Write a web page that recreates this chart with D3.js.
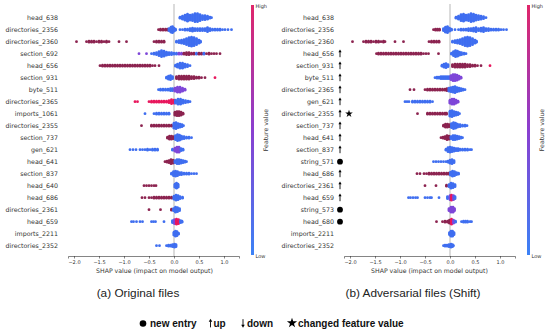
<!DOCTYPE html>
<html>
<head>
<meta charset="utf-8">
<script src="https://cdn.jsdelivr.net/npm/d3@7"></script>
<style>
  body { margin: 0; background: #fff; }
  svg { display: block; }
</style>
</head>
<body>
<div id="chart"></div>
<script>
// feature value codes: blue (low), purple (mid), maroon (high), red (highest)
var B = 0, P = 0.5, M = 0.85, R = 1;

var ticks = [-2.0, -1.5, -1.0, -0.5, 0.0, 0.5, 1.0];

// panel (a) original files
var labelsA = ["head_638", "directories_2356", "directories_2360", "section_692", "head_656",
  "section_931", "byte_511", "directories_2365", "imports_1061", "directories_2355",
  "section_737", "gen_621", "head_641", "section_837", "head_640", "head_686",
  "directories_2361", "head_659", "imports_2211", "directories_2352"];

// each row: [shap value, number of dots stacked, feature value]
var binsA = [
  [[0.12,2,B],[0.17,4,B],[0.22,6,B],[0.27,8,B],[0.32,6,B],[0.37,7,B],[0.42,9,B],[0.47,9,B],[0.52,7,B],[0.57,5,B],[0.62,5,B],[0.67,4,B],[0.72,2,B],[0.75,1,B]],
  [[-0.31,1,M],[-0.27,2,M],[-0.22,2,M],[-0.17,2,M],[-0.13,2,M],[-0.1,3,B],[-0.06,6,B],[-0.03,7,B],[0.0,4,B],[0.03,2,B],[0.12,1,B],[0.17,1,B],[0.22,2,B],[0.27,2,B],[0.32,3,B],[0.37,4,B],[0.42,3,B],[0.47,3,B],[0.52,3,B],[0.57,3,B],[0.62,3,B],[0.67,5,B],[0.72,3,B],[0.77,2,B],[0.82,2,B],[0.87,2,B],[0.92,2,B],[0.97,1,B],[1.02,1,B],[1.08,1,B],[1.15,1,B]],
  [[-1.95,1,M],[-1.75,1,M],[-1.7,2,M],[-1.65,2,M],[-1.6,2,M],[-1.55,1,M],[-1.5,2,M],[-1.45,2,M],[-1.4,1,M],[-1.35,2,M],[-1.3,1,M],[-1.1,1,M],[-0.95,1,M],[-0.4,1,M],[-0.35,2,M],[-0.3,2,M],[-0.25,2,M],[-0.2,2,M],[0.05,2,B],[0.1,3,B],[0.15,4,B],[0.2,5,B],[0.25,7,B],[0.3,9,B],[0.35,10,B],[0.4,9,B],[0.45,7,B],[0.5,4,B],[0.53,2,B]],
  [[-0.7,1,P],[-0.55,1,P],[-0.45,1,B],[-0.4,2,B],[-0.35,3,B],[-0.3,5,B],[-0.25,7,B],[-0.2,6,B],[-0.15,4,B],[-0.1,3,B],[-0.05,3,B],[0.0,2,B],[0.05,2,B],[0.1,2,P],[0.15,2,P],[0.2,2,M],[0.25,3,M],[0.3,3,M],[0.35,2,M],[0.4,2,M],[0.45,2,B],[0.5,2,M],[0.55,2,M],[0.6,2,B],[0.65,1,M],[0.7,2,M],[0.75,1,M],[0.8,1,M],[0.85,1,M],[0.92,1,M]],
  [[-1.48,1,M],[-1.43,2,M],[-1.38,2,M],[-1.33,2,M],[-1.28,2,M],[-1.23,2,M],[-1.18,2,M],[-1.13,2,M],[-1.08,2,M],[-1.03,2,M],[-0.98,2,M],[-0.93,2,M],[-0.88,2,M],[-0.83,2,M],[-0.78,2,M],[-0.73,2,M],[-0.68,2,M],[-0.63,2,M],[-0.58,2,M],[-0.53,2,M],[-0.48,2,M],[-0.43,1,M],[-0.38,1,M],[-0.3,1,M],[0.03,2,B],[0.07,4,B],[0.12,6,B],[0.17,6,B],[0.22,4,B],[0.27,3,B],[0.32,1,B]],
  [[-0.15,2,B],[-0.11,4,B],[-0.07,5,B],[-0.03,3,B],[0.05,3,M],[0.1,4,M],[0.15,4,M],[0.2,4,M],[0.25,4,M],[0.3,4,M],[0.35,3,M],[0.4,3,M],[0.45,2,M],[0.5,2,M],[0.55,1,M],[0.62,1,M],[0.82,1,R]],
  [[-0.31,1,B],[-0.27,2,B],[-0.22,2,B],[-0.17,2,B],[-0.12,2,B],[-0.07,3,B],[-0.03,3,B],[0.02,4,P],[0.07,6,P],[0.12,6,P],[0.17,4,P],[0.22,2,P]],
  [[-0.78,1,R],[-0.73,1,R],[-0.5,1,R],[-0.45,2,R],[-0.4,2,R],[-0.35,2,R],[-0.3,2,R],[-0.25,2,R],[-0.2,2,R],[-0.15,2,R],[-0.1,3,R],[-0.05,5,R],[0.0,4,R],[0.03,4,B],[0.08,6,B],[0.13,6,B],[0.18,4,B],[0.23,3,B],[0.28,2,B],[0.32,1,B]],
  [[-0.58,1,B],[-0.4,1,B],[-0.35,2,B],[-0.3,2,B],[-0.25,2,B],[-0.2,2,B],[-0.15,2,B],[-0.1,2,B],[0.02,4,M],[0.06,5,M],[0.1,5,M],[0.14,4,M],[0.18,2,M]],
  [[-0.65,1,M],[-0.45,2,M],[-0.4,2,M],[-0.35,2,M],[-0.3,2,M],[-0.25,2,M],[-0.2,2,M],[-0.15,2,M],[-0.1,2,M],[-0.05,2,M],[0.0,6,B],[0.04,7,B],[0.08,5,B],[0.12,4,B],[0.16,3,B],[0.19,1,B]],
  [[-0.13,2,M],[-0.09,4,M],[-0.05,4,M],[-0.01,3,M],[0.03,5,B],[0.07,7,B],[0.11,6,B],[0.15,4,B],[0.2,3,B],[0.25,2,B],[0.3,2,B],[0.35,1,B]],
  [[-0.88,1,B],[-0.82,1,B],[-0.76,1,B],[-0.68,1,B],[-0.63,1,B],[-0.58,1,B],[-0.53,2,B],[-0.48,1,B],[-0.43,2,B],[-0.38,2,B],[-0.33,2,B],[-0.03,2,B],[0.02,4,P],[0.06,6,P],[0.1,6,P],[0.14,3,B],[0.18,2,B]],
  [[-0.18,1,M],[-0.14,2,M],[-0.1,3,M],[-0.06,5,M],[-0.02,4,M],[0.02,3,B],[0.06,5,B],[0.1,5,B],[0.14,4,B],[0.18,3,B],[0.22,2,B],[0.25,1,B]],
  [[-0.05,2,B],[-0.01,5,B],[0.03,6,B],[0.07,5,B],[0.11,3,B],[0.15,3,B],[0.2,2,B],[0.25,2,B],[0.3,2,B],[0.35,1,B],[0.4,1,B],[0.45,1,B]],
  [[-0.6,1,M],[-0.55,1,M],[-0.5,1,M],[-0.45,1,M],[-0.4,1,M],[-0.36,1,M],[0.02,4,B],[0.05,6,B],[0.08,4,B]],
  [[-0.64,1,M],[-0.58,1,M],[-0.5,1,M],[-0.45,1,M],[-0.4,2,M],[-0.35,2,M],[-0.3,2,M],[-0.25,2,M],[-0.2,2,M],[-0.15,2,M],[-0.1,2,M],[-0.05,2,M],[0.0,4,B],[0.04,6,B],[0.08,5,B],[0.12,3,B],[0.17,2,B]],
  [[-0.5,1,M],[-0.27,1,M],[-0.05,2,M],[-0.01,3,B],[0.03,6,B],[0.07,5,B],[0.11,3,B]],
  [[-0.85,1,B],[-0.81,1,B],[-0.75,1,B],[-0.68,1,B],[-0.63,1,B],[-0.45,1,B],[-0.41,1,B],[-0.37,1,B],[-0.2,1,B],[-0.03,3,B],[0.01,5,P],[0.05,6,R],[0.09,5,R],[0.13,3,B],[0.16,2,B]],
  [[0.0,4,B],[0.03,6,B],[0.06,5,B],[0.09,2,B]],
  [[-0.35,1,B],[-0.29,1,B],[-0.15,1,B],[-0.11,2,B],[-0.07,2,B],[-0.03,3,B],[0.01,4,B],[0.04,3,B]]
];

// panel (b) adversarial files (shift)
var labelsB = ["head_638", "directories_2356", "directories_2360", "head_656", "section_931",
  "byte_511", "directories_2365", "gen_621", "directories_2355", "section_737", "head_641",
  "section_837", "string_571", "head_686", "directories_2361", "head_659", "string_573",
  "head_680", "imports_2211", "directories_2352"];

// rank change marker for each row of panel (b)
var marksB = ["", "", "", "up", "up", "up", "up", "up", "up", "up", "up", "up",
  "new", "up", "up", "up", "new", "new", "", ""];
var changedB = ["directories_2355"];

var binsB = [
  [[0.12,2,B],[0.17,4,B],[0.22,7,B],[0.27,8,B],[0.32,6,B],[0.37,7,B],[0.42,9,B],[0.47,8,B],[0.52,6,B],[0.57,5,B],[0.62,4,B],[0.67,3,B],[0.72,1,B]],
  [[-0.33,1,M],[-0.29,2,M],[-0.25,2,M],[-0.21,2,M],[-0.13,3,B],[-0.09,6,B],[-0.05,7,B],[-0.01,4,B],[0.03,2,B],[0.1,1,B],[0.17,1,B],[0.22,2,B],[0.27,2,B],[0.32,2,B],[0.37,3,B],[0.42,3,B],[0.47,4,B],[0.52,5,B],[0.57,3,B],[0.62,4,B],[0.67,5,B],[0.72,3,B],[0.77,3,B],[0.82,2,B],[0.87,2,B],[0.92,2,B],[0.97,2,B],[1.02,1,B],[1.07,1,B],[1.13,1,B]],
  [[-1.95,1,M],[-1.73,1,M],[-1.68,2,M],[-1.63,2,M],[-1.58,2,M],[-1.53,1,M],[-1.48,2,M],[-1.43,2,M],[-1.38,1,M],[-1.33,2,M],[-1.3,1,M],[-1.1,1,M],[-0.93,1,M],[-0.42,1,M],[-0.37,2,M],[-0.32,2,M],[-0.27,2,M],[-0.22,2,M],[0.05,2,B],[0.1,3,B],[0.15,4,B],[0.2,5,B],[0.25,7,B],[0.3,9,B],[0.35,10,B],[0.4,9,B],[0.45,7,B],[0.5,4,B],[0.53,2,B]],
  [[-1.47,1,M],[-1.43,2,M],[-1.38,2,M],[-1.33,2,M],[-1.28,2,M],[-1.23,2,M],[-1.18,2,M],[-1.13,2,M],[-1.08,2,M],[-1.03,2,M],[-0.98,2,M],[-0.93,2,M],[-0.88,2,M],[-0.83,2,M],[-0.78,2,M],[-0.73,2,M],[-0.68,2,M],[-0.63,2,M],[-0.58,2,M],[-0.53,1,M],[-0.48,1,M],[-0.43,1,M],[-0.23,1,M],[0.03,2,B],[0.07,5,B],[0.11,7,B],[0.15,6,B],[0.19,4,B],[0.23,3,B],[0.28,2,B],[0.32,1,B]],
  [[-0.16,2,B],[-0.12,4,B],[-0.08,5,B],[-0.04,3,B],[0.05,3,M],[0.1,4,M],[0.15,4,M],[0.2,4,M],[0.25,4,M],[0.3,4,M],[0.35,3,M],[0.4,3,M],[0.45,2,M],[0.5,2,M],[0.55,1,M],[0.62,1,M],[0.8,1,R]],
  [[-0.3,1,B],[-0.26,2,B],[-0.22,2,B],[-0.18,3,B],[-0.14,3,B],[-0.1,3,B],[-0.06,3,B],[-0.02,3,B],[0.02,5,P],[0.06,7,P],[0.1,7,P],[0.14,6,P],[0.18,4,P],[0.22,2,P]],
  [[-0.8,1,M],[-0.72,1,M],[-0.5,1,M],[-0.45,2,M],[-0.4,2,M],[-0.35,2,M],[-0.3,2,M],[-0.25,2,M],[-0.2,2,M],[-0.15,2,M],[-0.1,2,M],[-0.06,3,M],[-0.02,4,B],[0.02,5,B],[0.06,6,B],[0.1,7,B],[0.14,5,B],[0.18,4,B],[0.22,3,B],[0.26,2,B],[0.3,1,B]],
  [[-0.9,1,B],[-0.86,1,B],[-0.82,1,B],[-0.75,2,B],[-0.7,2,B],[-0.65,2,B],[-0.6,2,B],[-0.55,2,B],[-0.5,2,B],[-0.45,2,B],[-0.4,2,B],[-0.35,1,B],[0.0,4,P],[0.04,6,P],[0.08,6,P],[0.12,4,P],[0.16,2,P]],
  [[-0.65,1,M],[-0.45,2,M],[-0.4,2,M],[-0.35,2,M],[-0.3,2,M],[-0.25,2,M],[-0.2,2,M],[-0.15,2,M],[-0.1,2,M],[-0.07,2,M],[0.0,6,B],[0.04,7,B],[0.08,5,B],[0.12,4,B],[0.16,3,B],[0.19,1,B]],
  [[-0.13,2,M],[-0.09,4,M],[-0.05,4,M],[-0.01,3,M],[0.03,5,B],[0.07,7,B],[0.11,6,B],[0.15,4,B],[0.2,3,B],[0.25,2,B],[0.3,2,B],[0.34,1,B]],
  [[-0.18,1,M],[-0.14,2,M],[-0.1,3,M],[-0.06,5,M],[-0.02,4,M],[0.02,3,B],[0.06,5,B],[0.1,5,B],[0.14,4,B],[0.18,3,B],[0.22,2,B],[0.25,1,B]],
  [[-0.08,2,B],[-0.04,5,B],[0.0,6,B],[0.04,5,B],[0.08,4,B],[0.12,3,B],[0.16,3,B],[0.2,2,B],[0.25,2,B],[0.3,2,B],[0.35,2,B],[0.4,1,B],[0.43,1,B]],
  [[-0.33,1,B],[-0.28,1,B],[-0.23,1,B],[-0.18,1,B],[-0.13,1,B],[-0.08,1,B],[-0.04,2,B],[0.0,4,B],[0.04,5,B],[0.08,3,B]],
  [[-0.66,1,M],[-0.6,1,M],[-0.52,1,M],[-0.47,1,M],[-0.42,2,M],[-0.37,2,M],[-0.32,2,M],[-0.27,2,M],[-0.22,2,M],[-0.17,2,M],[-0.12,2,M],[-0.07,2,M],[-0.03,2,M],[0.01,4,B],[0.05,6,B],[0.09,5,B],[0.13,3,B],[0.17,2,B]],
  [[-0.5,1,M],[-0.28,1,M],[-0.07,2,M],[-0.02,3,B],[0.02,6,B],[0.06,5,B],[0.1,3,B]],
  [[-0.83,1,B],[-0.79,1,B],[-0.74,1,B],[-0.69,1,B],[-0.65,1,B],[-0.5,1,B],[-0.45,1,B],[-0.4,1,B],[-0.37,1,B],[-0.22,1,B],[-0.05,3,B],[0.0,5,P],[0.03,6,R],[0.07,5,P],[0.1,3,B]],
  [[-0.02,3,P],[0.02,6,P],[0.06,6,P],[0.09,3,P]],
  [[-0.27,1,M],[-0.15,1,M],[-0.1,2,M],[-0.05,2,M],[-0.01,4,M],[0.03,6,R],[0.07,4,P],[0.11,2,B],[0.23,1,B],[0.27,2,B],[0.31,2,B],[0.35,2,B],[0.4,1,B],[0.43,1,B]],
  [[-0.01,3,B],[0.02,6,B],[0.05,6,B],[0.08,3,B]],
  [[-0.13,1,B],[-0.1,2,B],[-0.06,2,B],[-0.02,3,B],[0.02,4,B],[0.05,3,B],[0.07,1,B]]
];

var svg = d3.select("#chart").append("svg")
    .attr("width", 550)
    .attr("height", 333);

var color = d3.scaleLinear()
    .domain([0, 0.5, 0.85, 1])
    .range(["#3f6ef0", "#7e46d8", "#8c2350", "#e8175d"]);

// colour bar gradient
var grad = svg.append("defs").append("linearGradient")
    .attr("id", "cbar")
    .attr("x1", 0).attr("y1", 1).attr("x2", 0).attr("y2", 0);
grad.append("stop").attr("offset", "0%").attr("stop-color", "#3b82f6");
grad.append("stop").attr("offset", "50%").attr("stop-color", "#8a3fd0");
grad.append("stop").attr("offset", "100%").attr("stop-color", "#e0266a");

function drawPanel(labels, bins, x0, x1, labelRight, barX, titleX) {
    var x = d3.scaleLinear().domain([-2.12, 1.3]).range([x0, x1]);
    var y = d3.scalePoint().domain(labels).range([17.7, 245.7]);
    var g = svg.append("g");

    // zero line
    g.append("line")
        .attr("x1", x(0)).attr("x2", x(0))
        .attr("y1", 4).attr("y2", 256)
        .attr("stroke", "#9a9a9a").attr("stroke-width", 0.7);

    // feature names
    g.selectAll(".lab")
        .data(labels)
        .enter().append("text")
        .attr("x", labelRight)
        .attr("y", function(d){ return y(d); })
        .attr("dy", "0.35em")
        .attr("text-anchor", "end")
        .attr("font-family", "DejaVu Sans")
        .attr("font-size", "6.3px")
        .attr("fill", "#333")
        .text(function(d){ return d; });

    // beeswarm dots, stacked around the row centre
    labels.forEach(function(lab, i) {
        var dots = [];
        bins[i].forEach(function(b) {
            for (var k = 0; k < b[1]; k++) {
                dots.push({ v: b[0], off: (k - (b[1] - 1) / 2) * 1.0, f: b[2] });
            }
        });
        g.selectAll(".d" + i)
            .data(dots)
            .enter().append("circle")
            .attr("cx", function(d){ return x(d.v); })
            .attr("cy", function(d){ return y(lab) + d.off; })
            .attr("r", 1.4)
            .attr("fill", function(d){ return color(d.f); });
    });

    // x axis
    var axis = g.append("g")
        .attr("transform", "translate(0,256)")
        .call(d3.axisBottom(x).tickValues(ticks).tickSize(2.5).tickPadding(1.5)
            .tickFormat(function(d){ return d3.format(".1f")(d).replace("-", "\u2212"); }));
    axis.select(".domain").attr("stroke", "#333").attr("stroke-width", 0.6);
    axis.selectAll(".tick line").attr("stroke", "#333").attr("stroke-width", 0.6);
    axis.selectAll("text")
        .attr("font-family", "DejaVu Sans")
        .attr("font-size", "5px")
        .attr("fill", "#333");

    g.append("text")
        .attr("x", titleX)
        .attr("y", 272.5)
        .attr("text-anchor", "middle")
        .attr("font-family", "DejaVu Sans")
        .attr("font-size", "6.2px")
        .attr("fill", "#333")
        .text("SHAP value (impact on model output)");

    // colour bar
    g.append("rect")
        .attr("x", barX).attr("y", 5)
        .attr("width", 3).attr("height", 250)
        .attr("fill", "url(#cbar)");
    g.append("text")
        .attr("x", barX + 4.5).attr("y", 8)
        .attr("font-family", "DejaVu Sans").attr("font-size", "5px").attr("fill", "#333")
        .text("High");
    g.append("text")
        .attr("x", barX + 4.5).attr("y", 258)
        .attr("font-family", "DejaVu Sans").attr("font-size", "5px").attr("fill", "#333")
        .text("Low");
    g.append("text")
        .attr("transform", "translate(" + (barX + 17) + ",130) rotate(-90)")
        .attr("text-anchor", "middle")
        .attr("font-family", "DejaVu Sans").attr("font-size", "6.2px").attr("fill", "#333")
        .text("Feature value");

    return y;
}

// arrow with a small head, dir 1 = up, -1 = down
function upArrow(sel, cx, cy, dir, s) {
    s = s || 1;
    sel.append("line")
        .attr("x1", cx).attr("x2", cx)
        .attr("y1", cy + 3.5 * s * dir).attr("y2", cy - 2 * s * dir)
        .attr("stroke", "#000").attr("stroke-width", 0.9);
    sel.append("path")
        .attr("d", "M" + (cx - 1.6 * s) + "," + (cy - 1.5 * s * dir) + "L" + cx + "," + (cy - 4.3 * s * dir) +
            "L" + (cx + 1.6 * s) + "," + (cy - 1.5 * s * dir) + "Z")
        .attr("fill", "#000");
}

drawPanel(labelsA, binsA, 68, 239, 58, 251, 154.5);
var yB = drawPanel(labelsB, binsB, 344, 515, 334, 527, 429.5);

// rank change markers next to panel (b) names
var mk = svg.append("g");
labelsB.forEach(function(lab, i) {
    if (marksB[i] === "up") upArrow(mk, 340, yB(lab), 1);
    if (marksB[i] === "new") {
        mk.append("circle").attr("cx", 340).attr("cy", yB(lab)).attr("r", 2.9).attr("fill", "#000");
    }
    if (changedB.indexOf(lab) >= 0) {
        mk.append("path")
            .attr("transform", "translate(349," + yB(lab) + ")")
            .attr("d", d3.symbol().type(d3.symbolStar).size(18))
            .attr("fill", "#000");
    }
});

// sub captions
svg.append("text")
    .attr("x", 138).attr("y", 297)
    .attr("text-anchor", "middle")
    .attr("font-family", "Liberation Sans").attr("font-size", "11.8px").attr("fill", "#222")
    .text("(a) Original files");
svg.append("text")
    .attr("x", 413).attr("y", 297)
    .attr("text-anchor", "middle")
    .attr("font-family", "Liberation Sans").attr("font-size", "11.8px").attr("fill", "#222")
    .text("(b) Adversarial files (Shift)");

// legend
var leg = svg.append("g").attr("font-family", "Liberation Sans").attr("font-weight", "bold")
    .attr("font-size", "10px").attr("fill", "#111");
leg.append("circle").attr("cx", 143).attr("cy", 323.5).attr("r", 3.3).attr("fill", "#000");
leg.append("text").attr("x", 150).attr("y", 327).text("new entry");
upArrow(leg, 210.5, 323.5, 1, 1.1);
leg.append("text").attr("x", 213.5).attr("y", 327).text("up");
upArrow(leg, 243, 323, -1, 1.1);
leg.append("text").attr("x", 247).attr("y", 327).text("down");
leg.append("path")
    .attr("transform", "translate(292,323)")
    .attr("d", d3.symbol().type(d3.symbolStar).size(32))
    .attr("fill", "#000");
leg.append("text").attr("x", 298).attr("y", 327).text("changed feature value");
</script>
</body>
</html>
